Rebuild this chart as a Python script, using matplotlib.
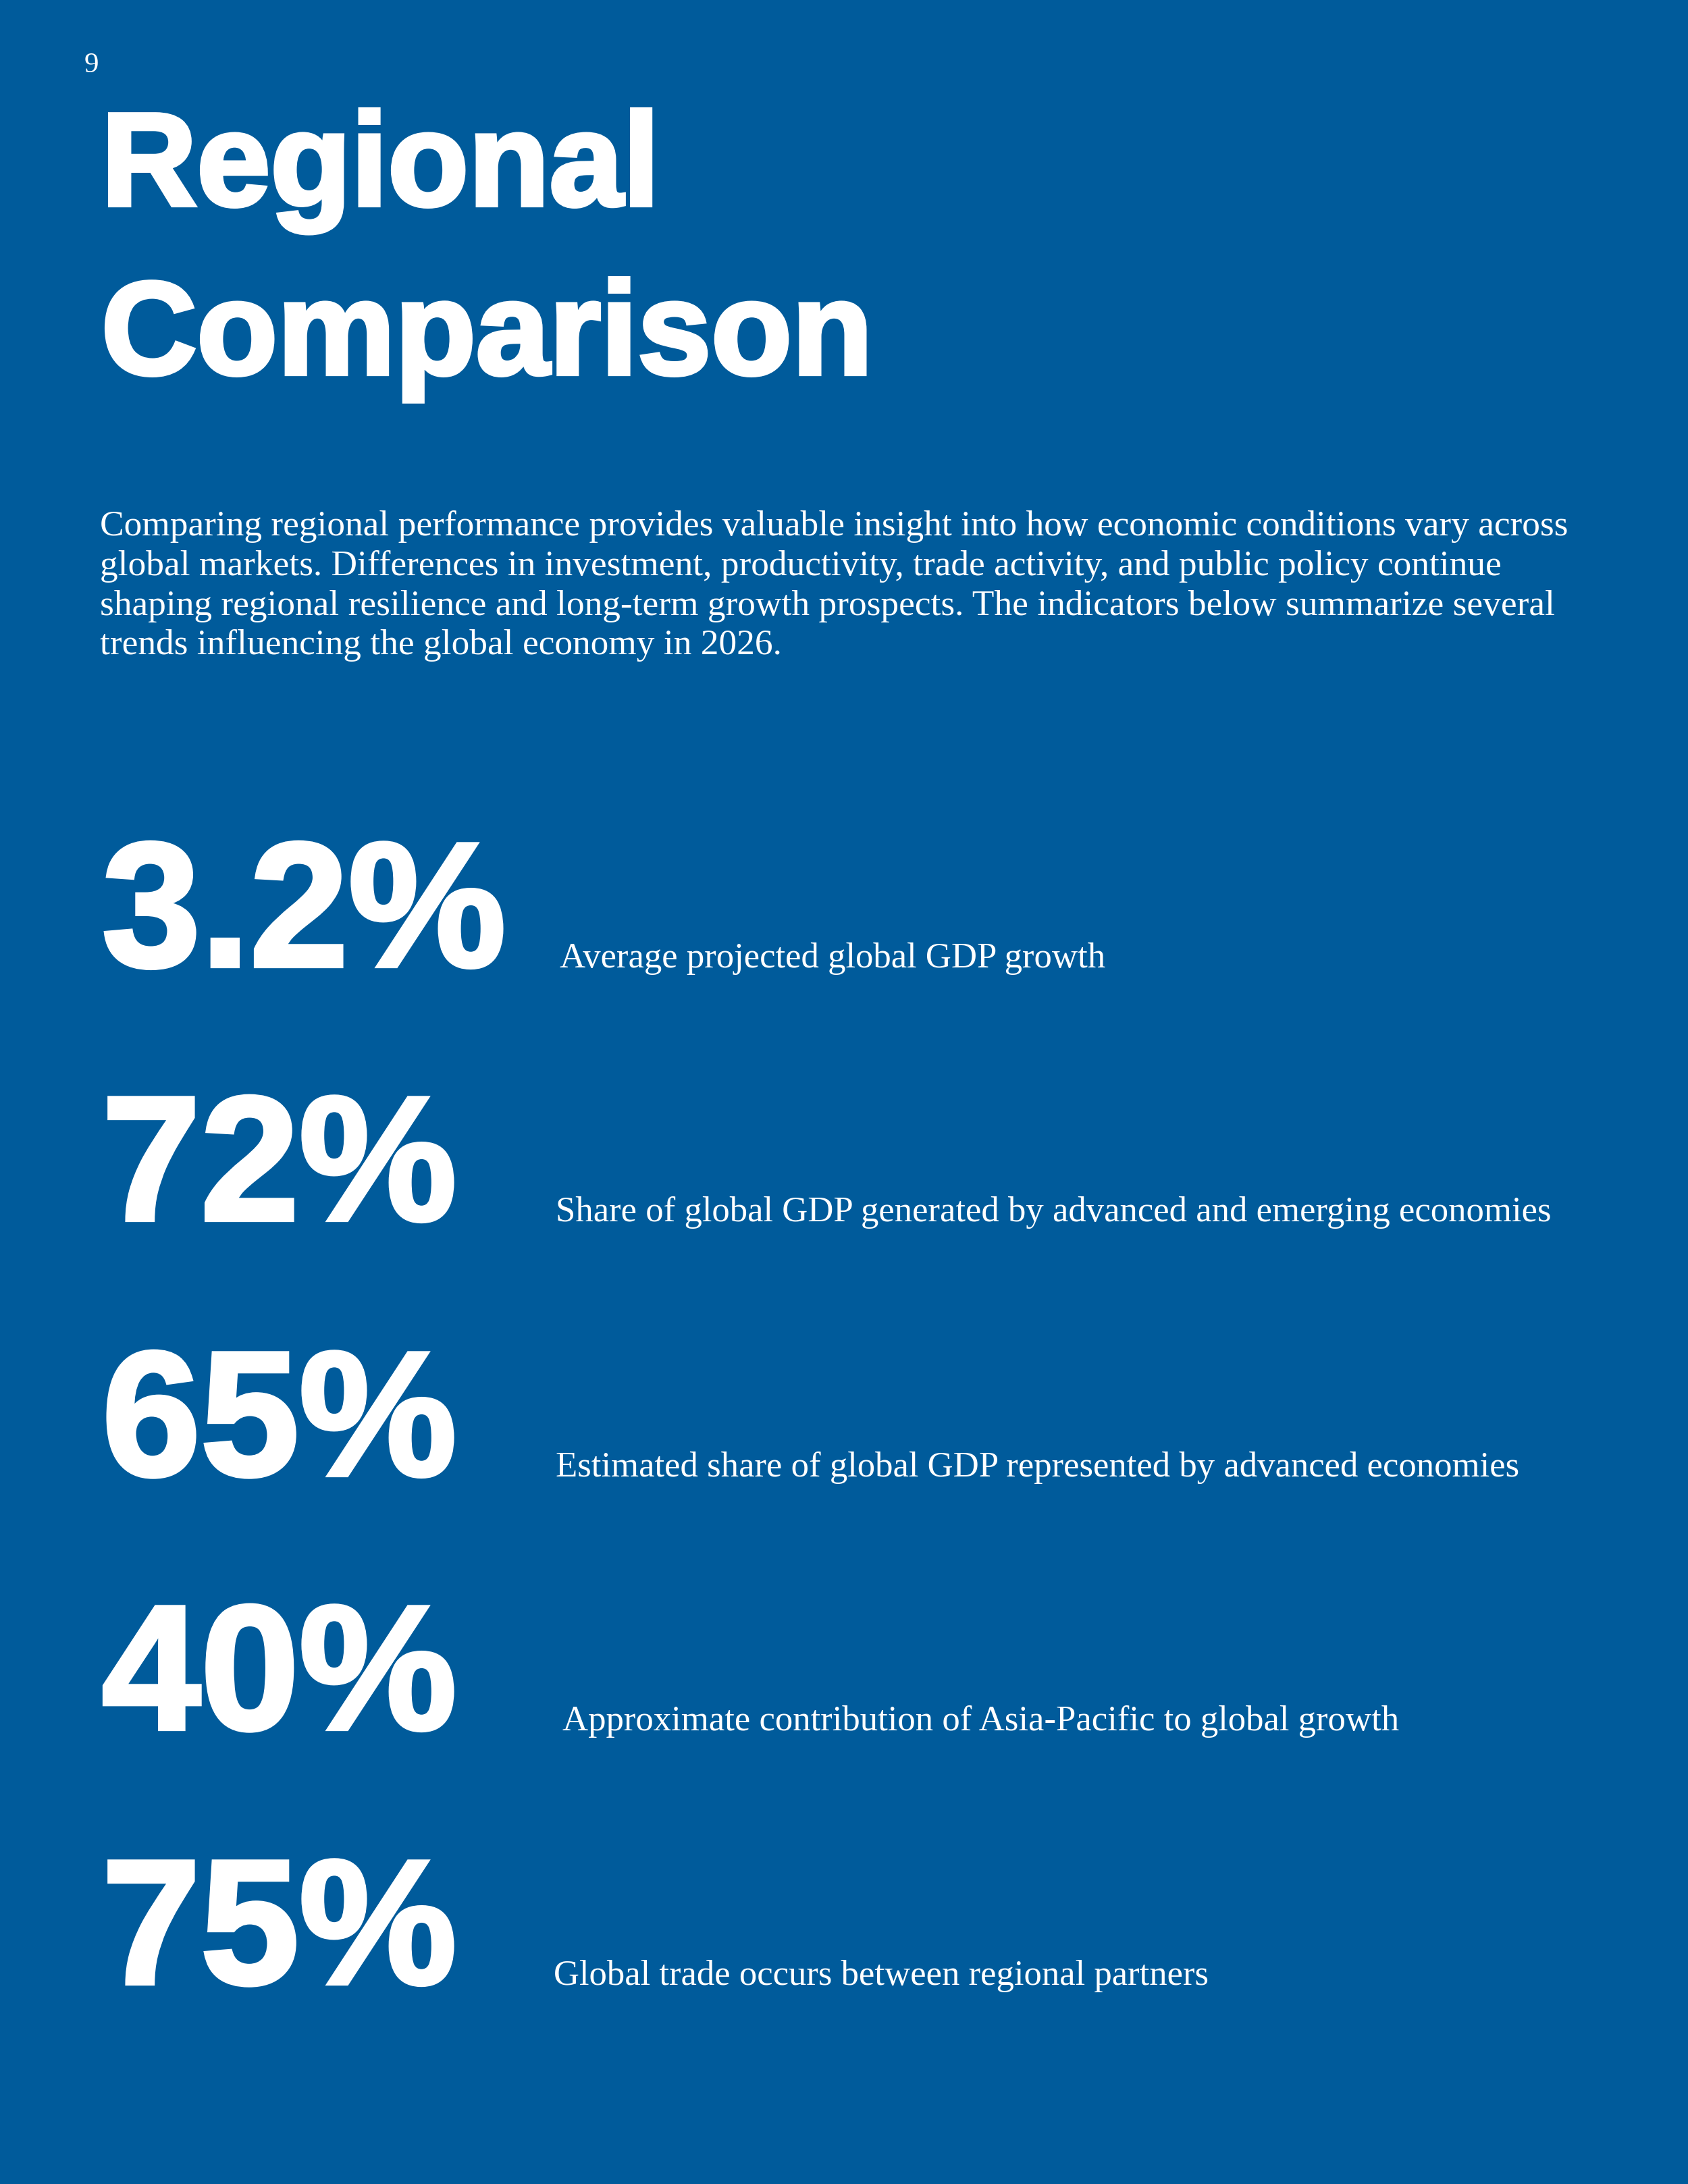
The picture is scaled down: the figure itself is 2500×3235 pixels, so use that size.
import matplotlib
matplotlib.use("Agg")
import matplotlib.pyplot as plt
import matplotlib.patheffects as pe

# ---- content ----
page_number = "9"
title_lines = ["Regional", "Comparison"]
intro_lines = [
    "Comparing regional performance provides valuable insight into how economic conditions vary across",
    "global markets. Differences in investment, productivity, trade activity, and public policy continue",
    "shaping regional resilience and long-term growth prospects. The indicators below summarize several",
    "trends influencing the global economy in 2026.",
]
stat_values = ["3.2%", "72%", "65%", "40%", "75%"]
stat_labels = [
    "Average projected global GDP growth",
    "Share of global GDP generated by advanced and emerging economies",
    "Estimated share of global GDP represented by advanced economies",
    "Approximate contribution of Asia-Pacific to global growth",
    "Global trade occurs between regional partners",
]

# ---- layout ----
W, H = 2500, 3235
DPI = 100
BG = "#005B9B"
FG = "white"
SANS = ["Liberation Sans", "DejaVu Sans"]
SERIF = ["Liberation Serif", "DejaVu Serif"]

fig = plt.figure(figsize=(W / DPI, H / DPI), dpi=DPI, facecolor=BG)


def px(x, y):
    return x / W, 1 - y / H


heavy_title = [pe.Stroke(linewidth=4.5, foreground=FG, joinstyle="miter"), pe.Normal()]
heavy_num = [pe.Stroke(linewidth=4.5, foreground=FG, joinstyle="miter"), pe.Normal()]

left = 150
fig.text(*px(125, 107), page_number, color=FG, fontsize=31, family=SERIF, va="baseline", ha="left")

title_baselines = [304, 554]
for line, yb in zip(title_lines, title_baselines):
    fig.text(*px(left, yb), line, color=FG, fontsize=141, family=SANS, weight="bold",
             va="baseline", ha="left", path_effects=heavy_title)

intro_baselines = [793, 852, 911, 969]
for line, yb in zip(intro_lines, intro_baselines):
    fig.text(*px(148, yb), line, color=FG, fontsize=38.4, family=SERIF,
             va="baseline", ha="left")

stat_baselines = [1433, 1809, 2187, 2563, 2940]
label_x = [829, 823, 823, 833, 820]
for val, lab, yb, lx in zip(stat_values, stat_labels, stat_baselines, label_x):
    fig.text(*px(left + 1, yb - 2), val, color=FG, fontsize=189, family=SANS, weight="bold",
             va="baseline", ha="left", path_effects=heavy_num)
    fig.text(*px(lx, yb), lab, color=FG, fontsize=38, family=SERIF,
             va="baseline", ha="left")

fig.savefig("out.png", dpi=DPI, facecolor=BG)
